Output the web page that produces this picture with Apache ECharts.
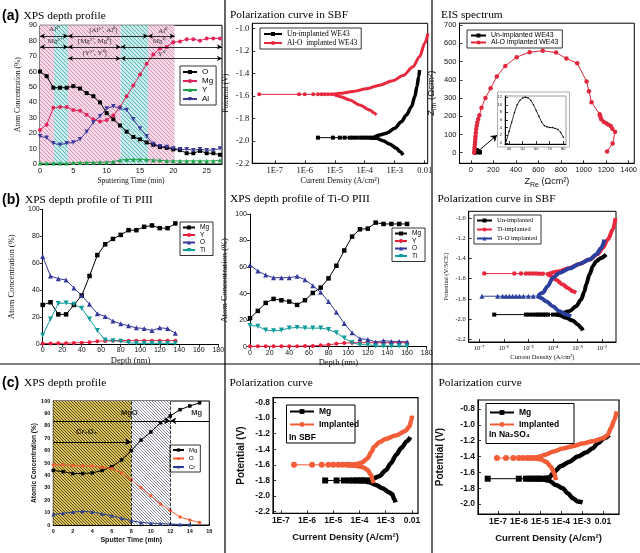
<!DOCTYPE html>
<html>
<head>
<meta charset="utf-8">
<title>Ion implantation on Mg alloys</title>
<script src="https://cdn.jsdelivr.net/npm/echarts@6/dist/echarts.min.js"></script>
<style>
  html, body { margin: 0; padding: 0; background: #fff; }
  #chart { width: 640px; height: 553px; }
</style>
</head>
<body>
<div id="chart"></div>
<script>
var SERIF = '"Liberation Serif", "Times New Roman", serif';
var SANS = '"Liberation Sans", Arial, sans-serif';

// ---------- (a) XPS depth profile (sputtering time, min) ----------
var aTime = [0,1,2,3,4,5,6,7,8,9,10,11,12,13,14,15,16,17,18,19,20,21,22,23,24,25,26,27];
var aO  = [60,57,49.5,49.5,49.5,50.5,49,46,44,40,33,29,25,21,17.5,16,14,12.5,11,10.5,9.5,9,7,7,8.5,7,7,6];
var aMg = [22,25.5,36.5,37,37,35,34.5,32,29,27.5,28.5,31.5,37,44,51,58,65,71,75,76,79,79.5,81,81,80,81.5,81.5,81.5];
var aY  = [0.5,0.5,0.5,0.5,0.5,0.8,0.8,1,1,1.2,1.2,1.5,2.5,3,3,3,3,2.5,2.5,2,2,2,2,2,2,2,2,2.5];
var aAl = [18,17,13.5,12.5,13.5,14,16,21,27,31,36,37.5,36,35,29,23,18,13,11.5,11,10,9.5,9.5,9,9.5,9,9,10];
// shaded stages [from, to, kind]
var aBands = [[0,2.1,'p'],[2.1,4.2,'t'],[4.2,12.1,'p'],[12.1,16.2,'t'],[16.2,20.2,'p']];
// chemical state spans [from, to, level]
var aSpans = [[0,4.2,83],[4.2,16.2,83],[16.2,20.2,83],[0,4.2,76],[4.2,12.1,76],[12.1,27.3,76],[4.2,12.1,68.5],[12.1,27.3,68.5]];
var aNotes = [[2.2,87.5,'Al³⁺'],[9.5,87,'[Al³⁺, Al⁰]'],[18.4,86.5,'Al⁰'],[2.2,80,'Mg²⁺'],[8.2,80,'[Mg²⁺, Mg⁰]'],[17.8,79.5,'Mg⁰'],[8.2,72,'[Y³⁺, Y⁰]'],[18.2,71.5,'Y⁰']];

// ---------- (a) polarization in SBF, x = log10(current density) ----------
var a2UnFlat = [[-5.56,-1.972],[-5.06,-1.972],[-4.83,-1.972],[-4.67,-1.972],[-4.5,-1.972],[-4.39,-1.972],[-4.28,-1.972],[-4.15,-1.972],[-4.05,-1.972],[-3.95,-1.972],[-3.85,-1.972]];
var a2UnAnodic = [[-3.85,-1.972],[-3.72,-1.969],[-3.5,-1.948],[-3.28,-1.933],[-3.0,-1.889],[-2.78,-1.83],[-2.61,-1.77],[-2.44,-1.696],[-2.33,-1.607],[-2.26,-1.519],[-2.2,-1.43],[-2.17,-1.37]];
var a2UnCathodic = [[-3.85,-1.974],[-3.61,-1.978],[-3.39,-1.999],[-3.17,-2.028],[-2.94,-2.067],[-2.83,-2.096],[-2.72,-2.126]];
var a2AlFlat = [[-7.52,-1.587],[-6.19,-1.587],[-6.0,-1.587],[-5.72,-1.587],[-5.56,-1.587],[-5.44,-1.587],[-5.33,-1.587],[-5.22,-1.587],[-5.1,-1.587],[-5.0,-1.587]];
var a2AlAnodic = [[-5.0,-1.587],[-4.83,-1.578],[-4.39,-1.562],[-3.94,-1.537],[-3.5,-1.505],[-3.06,-1.465],[-2.72,-1.42],[-2.39,-1.341],[-2.17,-1.252],[-2.0,-1.133],[-1.89,-1.044]];
var a2AlCathodic = [[-5.0,-1.592],[-4.83,-1.605],[-4.5,-1.637],[-4.17,-1.681],[-3.83,-1.726],[-3.7,-1.75],[-3.61,-1.77]];

// ---------- (a) EIS spectrum ----------
var a3AlO = [[30,0],[32,15],[34,30],[36,45],[38,60],[40,75],[42,90],[45,110],[48,130],[53,148],[58,165],[66,185],[76,205],[95,247],[130,300],[176,353],[231,418],[306,476],[407,524],[522,551],[638,559],[756,549],[848,516],[944,491],[1027,390],[1048,337],[1071,277],[1143,211],[1149,198],[1157,183],[1178,170],[1201,161],[1221,154],[1241,147],[1255,132],[1279,115],[1258,51],[1209,7]];
var a3Un = [[38,0.5],[40,3],[42,5.5],[44,8],[46,10],[48,11.2],[50,11.8],[52,12],[54,11.8],[56,11.2],[58,10],[60,8.5],[62,7],[64,5.5],[66,4.5],[68,4.2],[70,4],[72,4],[74,3.8],[76,3.5],[78,2.8],[80,1.5]];
var a3Arrow = [[60,6],[232,96]];

// ---------- (b) XPS depth profile of Ti PIII ----------
var b1Depth = [0,8,16,24,32,40,48,56,64,72,80,88,96,104,112,120,128,136];
var b1Mg = [29,31,22,22,29,36,50.5,66,74,78,81,84.5,84.5,87,88,86,86,89.5];
var b1Y  = [0.3,0.4,0.5,0.6,0.8,1,1.3,2,2.3,2.4,2.5,2.5,2.5,2.5,2.5,2.5,2.5,2.5];
var b1O  = [65,50.5,48.5,47.5,41.5,36,29.5,22.5,20.5,17,15,13.5,12,11.5,10,12,11.5,8];
var b1Ti = [6.5,18.5,30,30.5,29.5,26.5,18.5,10,3,2.5,2,1,0.5,0.5,0.5,0.5,0.5,0.5];

// ---------- (b) XPS depth profile of Ti-O PIII ----------
var b2Depth = [0,8,16,24,32,40,48,56,64,72,80,88,96,104,112,120,128,136,144,152,160];
var b2Mg = [21.5,27,33,36,35,34,31.5,35,40.5,44.5,51.5,61,72.5,83,88.5,89,93.5,92.5,92.5,92.5,92.5];
var b2Y  = [0.3,0.3,0.3,0.3,0.3,0.3,0.4,0.5,0.6,1,1.5,2.2,2.8,3,3,3,3,3,3,3,3];
var b2O  = [61.5,57,54,52,52,52,53,50.5,46,41,34,26,17.5,10.5,6,5.5,3.5,4.5,4,4,3.5];
var b2Ti = [16,15.5,12.5,12,12.5,14,14.5,14,14,14,13,10.5,6.5,3,1.5,1.5,0.5,0.5,0.5,0.5,0.5];

// ---------- (b) polarization in SBF ----------
var b3UnFlat = [[-6.39,-1.956],[-5.1,-1.956],[-4.96,-1.956],[-4.82,-1.956],[-4.69,-1.956],[-4.6,-1.956],[-4.5,-1.956],[-4.4,-1.956],[-4.3,-1.956],[-4.2,-1.956],[-4.0,-1.956],[-3.85,-1.956]];
var b3UnAnodic = [[-3.85,-1.956],[-3.735,-1.949],[-3.327,-1.923],[-3.054,-1.873],[-2.85,-1.807],[-2.714,-1.725],[-2.646,-1.659],[-2.51,-1.56],[-2.374,-1.478],[-2.238,-1.428],[-2.034,-1.395],[-1.83,-1.362]];
var b3UnCathodic = [[-3.85,-1.958],[-3.735,-1.962],[-3.463,-1.988],[-3.19,-2.015],[-2.986,-2.054],[-2.85,-2.087],[-2.782,-2.114]];
var b3TiFlat = [[-6.796,-1.55],[-5.571,-1.55],[-5.299,-1.55],[-5.095,-1.55],[-4.959,-1.55],[-4.823,-1.55],[-4.687,-1.55],[-4.55,-1.552],[-4.41,-1.552],[-4.2,-1.555]];
var b3TiAnodic = [[-4.2,-1.555],[-3.735,-1.527],[-3.327,-1.494],[-2.918,-1.455],[-2.51,-1.412],[-2.17,-1.356],[-1.966,-1.297],[-1.762,-1.214],[-1.558,-1.115],[-1.449,-1.0]];
var b3TiCathodic = [[-4.2,-1.56],[-4.143,-1.567],[-3.871,-1.61],[-3.599,-1.659],[-3.395,-1.692],[-3.19,-1.725],[-3.054,-1.741]];
var b3TiOFlat = [[-6.891,-1.774],[-6.252,-1.774],[-6.048,-1.774],[-5.912,-1.774],[-5.776,-1.774],[-5.639,-1.774],[-5.5,-1.774],[-5.36,-1.774],[-5.2,-1.774],[-5.0,-1.774],[-4.8,-1.774],[-4.6,-1.77]];
var b3TiOAnodic = [[-4.6,-1.77],[-4.415,-1.741],[-4.211,-1.675],[-4.007,-1.593],[-3.735,-1.544],[-3.327,-1.501],[-2.918,-1.455],[-2.51,-1.412],[-2.238,-1.362],[-2.034,-1.297],[-1.898,-1.214]];
var b3TiOCathodic = [[-4.6,-1.778],[-4.483,-1.791],[-4.279,-1.824],[-4.007,-1.873],[-3.735,-1.923],[-3.463,-1.956],[-3.259,-1.972]];

// ---------- (c) XPS depth profile (Cr implanted) ----------
var cTime = [0,1,2,3,4,5,6,7,8,9,10,11,12,13,14,15];
var cMg = [44,43,41.5,41.5,42,44,47,52.5,60,68.5,75,82.5,88,93,96,98.5];
var cO  = [48.5,48.5,48,47.5,47.5,46.5,45.5,42,36.5,30,23.5,17,11.5,6.5,4,2];
var cCr = [8.5,9.5,10.5,11,10.5,9,7.5,5.5,3.5,2,1.5,1,0.8,0.5,0.5];
var cLayers = [[0,8,'y'],[8,12,'g']];
var cBounds = [8,12];
var cArrows = [[0,12,84],[16,12,84],[0,8,67]];
var cNotes = [[7.8,90.5,'MgO'],[14.7,90,'Mg'],[3.4,75,'Cr₂O₃']];

// ---------- (c) polarization curves ----------
var c2MgFlat = [[-5.31,-1.8],[-4.875,-1.8],[-4.6,-1.8],[-4.4,-1.8],[-4.25,-1.8],[-4.125,-1.8],[-4.0,-1.8],[-3.9,-1.8],[-3.8,-1.8]];
var c2MgAnodic = [[-3.8,-1.8],[-3.5,-1.78],[-3.25,-1.745],[-3.0,-1.67],[-2.8,-1.58],[-2.6,-1.47],[-2.4,-1.38],[-2.2,-1.3],[-2.06,-1.245]];
var c2MgCathodic = [[-3.8,-1.805],[-3.625,-1.823],[-3.375,-1.858],[-3.125,-1.9],[-2.875,-1.951],[-2.75,-1.977],[-2.69,-2.028],[-2.625,-2.079]];
var c2ImpFlat = [[-6.5,-1.6],[-5.81,-1.6],[-5.44,-1.6],[-5.19,-1.6],[-5.0,-1.6],[-4.81,-1.6],[-4.65,-1.6],[-4.5,-1.6],[-4.4,-1.6]];
var c2ImpAnodic = [[-4.4,-1.598],[-4.125,-1.59],[-3.9,-1.57],[-3.69,-1.516],[-3.56,-1.44],[-3.44,-1.37],[-3.25,-1.31],[-3.0,-1.27],[-2.625,-1.226],[-2.25,-1.167],[-2.1,-1.111],[-2.02,-1.03],[-2.0,-0.97]];
var c2ImpCathodic = [[-4.4,-1.605],[-4.1,-1.615],[-3.875,-1.63],[-3.69,-1.666],[-3.56,-1.73],[-3.5,-1.794],[-3.475,-1.836]];

var c3MgFlat = [[-7.49,-1.68],[-6.01,-1.68],[-5.67,-1.68],[-5.5,-1.68],[-5.35,-1.68],[-5.2,-1.68],[-5.05,-1.68],[-4.9,-1.68]];
var c3MgAnodic = [[-4.9,-1.68],[-4.56,-1.663],[-4.32,-1.592],[-4.0,-1.52],[-3.6,-1.465],[-3.2,-1.4],[-2.81,-1.35],[-2.49,-1.295],[-2.25,-1.232],[-1.94,-1.168],[-1.7,-1.126]];
var c3MgCathodic = [[-4.9,-1.685],[-4.56,-1.705],[-4.24,-1.76],[-3.92,-1.8],[-3.68,-1.863],[-3.44,-1.926],[-3.2,-1.968],[-2.97,-1.98]];
var c3ImpFlat = [[-7.05,-1.42],[-6.62,-1.42],[-6.27,-1.42],[-6.0,-1.42],[-5.8,-1.42],[-5.6,-1.42],[-5.45,-1.42],[-5.3,-1.42],[-5.15,-1.42]];
var c3ImpAnodic = [[-5.15,-1.418],[-5.03,-1.4],[-4.71,-1.373],[-4.4,-1.34],[-3.92,-1.3],[-3.44,-1.27],[-2.97,-1.237],[-2.49,-1.208],[-2.01,-1.17],[-1.78,-1.13],[-1.62,-1.04],[-1.46,-0.94],[-1.35,-0.83]];
var c3ImpCathodic = [[-5.15,-1.425],[-4.95,-1.436],[-4.71,-1.465],[-4.48,-1.528],[-4.32,-1.612],[-4.24,-1.697]];

// ---------- helpers ----------
function pairs(xs, ys) {
  return ys.map(function (y, i) { return [xs[i], y]; });
}

function hatch(bg, fg, step, lw) {
  var c = document.createElement('canvas');
  c.width = step; c.height = step;
  var g = c.getContext('2d');
  g.fillStyle = bg; g.fillRect(0, 0, step, step);
  g.strokeStyle = fg; g.lineWidth = lw;
  g.beginPath();
  for (var k = -1; k <= 1; k++) {
    g.moveTo(k * step, 0); g.lineTo(k * step + step, step);
  }
  g.stroke();
  return { image: c, repeat: 'repeat' };
}

function decLabel(v) {
  var r = Math.round(v);
  if (Math.abs(v - r) > 1e-6) return '';
  if (r === -2) return '0.01';
  if (r === -1) return '0.1';
  return '1E' + r;
}
var SUP = {'-': '⁻', '0': '⁰', '1': '¹', '2': '²', '3': '³', '4': '⁴', '5': '⁵', '6': '⁶', '7': '⁷', '8': '⁸', '9': '⁹'};
function powLabel(v) {
  var r = Math.round(v);
  if (Math.abs(v - r) > 1e-6) return '';
  return '10' + String(r).split('').map(function (c) { return SUP[c]; }).join('');
}
function oneDec(v) { return v.toFixed(1); }
function plain(v) { return String(v); }

function axis(gi, o) {
  var a = {
    type: 'value', gridIndex: gi, min: o.min, max: o.max,
    axisLine: { show: true, onZero: false, lineStyle: { color: '#000', width: 1 } },
    axisTick: { show: true, inside: o.tickIn !== false, length: 3, lineStyle: { color: '#000', width: 0.8 } },
    splitLine: { show: false },
    axisLabel: {
      fontFamily: o.font, fontSize: o.size, fontWeight: o.bold ? 'bold' : 'normal',
      color: '#111', margin: o.margin || 3,
      showMinLabel: o.minLabel !== false, showMaxLabel: o.maxLabel !== false
    },
    name: o.name || '', nameLocation: 'middle', nameGap: o.gap || 0,
    nameTextStyle: {
      fontFamily: o.nfont || o.font, fontSize: o.nsize || o.size,
      fontWeight: o.bold ? 'bold' : 'normal', color: '#111', rich: o.rich
    }
  };
  if (o.fmt) a.axisLabel.formatter = o.fmt;
  if (o.interval) a.interval = o.interval; else a.splitNumber = o.split || 5;
  return a;
}

function prof(name, gi, xs, ys, color, symbol, size) {
  return {
    name: name, type: 'line', xAxisIndex: gi, yAxisIndex: gi, z: 3,
    data: pairs(xs, ys), symbol: symbol, symbolSize: size,
    itemStyle: { color: color }, lineStyle: { color: color, width: 1 }
  };
}

function pol(name, gi, flat, cath, anod, color, symbol, size, width) {
  var base = { name: name, type: 'line', xAxisIndex: gi, yAxisIndex: gi, z: 3, itemStyle: { color: color } };
  return [
    Object.assign({}, base, { data: flat, symbol: symbol, symbolSize: size, lineStyle: { color: color, width: 1 } }),
    Object.assign({}, base, { data: cath, symbol: 'none', smooth: 0.3, smoothMonotone: 'x', lineStyle: { color: color, width: width } }),
    Object.assign({}, base, { data: anod, symbol: 'none', smooth: 0.3, smoothMonotone: 'x', lineStyle: { color: color, width: width } })
  ];
}

function legendAt(names, left, top, o) {
  return {
    data: names, left: left, top: top, orient: 'vertical', selectedMode: false,
    itemWidth: o.iw, itemHeight: o.ih, itemGap: o.gap, padding: o.pad,
    borderColor: o.border === false ? 'transparent' : '#000', borderWidth: o.border === false ? 0 : 0.8,
    textStyle: { fontFamily: o.font, fontSize: o.size, fontWeight: o.bold ? 'bold' : 'normal', color: '#000' },
    formatter: function (n) { return n.split('|')[0]; }
  };
}

function noteSeries(gi, notes, font, size, bold) {
  return {
    type: 'scatter', xAxisIndex: gi, yAxisIndex: gi, z: 1, silent: true,
    data: notes, symbolSize: 1, itemStyle: { color: 'rgba(0,0,0,0)' },
    label: {
      show: true, position: 'inside', color: '#000', fontFamily: font, fontSize: size,
      fontWeight: bold ? 'bold' : 'normal',
      formatter: function (p) { return p.value[2]; }
    }
  };
}

var pink = hatch('#f4d9e6', '#d98cb6', 4, 0.9);
var teal = hatch('#c8ecec', '#4fb0b0', 4, 0.9);
var yellow = hatch('#dcc55c', '#4a3c10', 3.5, 0.9);
var grey = hatch('#ffffff', '#7d7f98', 3.5, 0.9);

var RED = '#e0245a', BLK = '#000', GRN = '#1fa04a', PUR = '#3b3a9c';
var ORG = '#f25c36';

// ---------- option ----------
var grids = [
  { left: 40, top: 25.3, width: 182, height: 138.7, show: true, borderColor: '#000', borderWidth: 1 },
  { left: 252.3, top: 23.3, width: 175.4, height: 140, show: true, borderColor: '#000', borderWidth: 1 },
  { left: 459.5, top: 23.2, width: 179, height: 140.1, show: true, borderColor: '#000', borderWidth: 1 },
  { left: 42.7, top: 209.3, width: 175.6, height: 134.7 },
  { left: 250, top: 214, width: 176.7, height: 132.7 },
  { left: 468.7, top: 211.3, width: 147.3, height: 130.7, show: true, borderColor: '#000', borderWidth: 1 },
  { left: 53.3, top: 401, width: 156, height: 124, show: true, borderColor: '#000', borderWidth: 1 },
  { left: 273, top: 397.7, width: 145, height: 115.6, show: true, borderColor: '#000', borderWidth: 1.2 },
  { left: 478, top: 400, width: 141, height: 114, show: true, borderColor: '#000', borderWidth: 1.2 },
  { left: 505, top: 96, width: 61, height: 48, show: true, borderColor: '#555', borderWidth: 0.6 }
];

var zRich = { sub: { fontSize: 7, fontFamily: SANS, padding: [6, 0, 0, 0] } };

var xAxes = [
  axis(0, { min: 0, max: 27.3, interval: 5, font: SANS, size: 7.5, maxLabel: false, name: 'Sputtering Time (min)', nfont: SERIF, nsize: 7.5, gap: 13 }),
  axis(1, { min: -7.75, max: -1.9, split: 5, font: SERIF, size: 8.5, fmt: decLabel, minLabel: false, maxLabel: false, name: 'Current Density (A/cm²)', nsize: 8, gap: 14 }),
  axis(2, { min: -100, max: 1450, split: 7, font: SANS, size: 7.5, fmt: plain, minLabel: false, maxLabel: false, name: 'Z{sub|Re} (Ωcm²)', nsize: 9, gap: 12, rich: zRich }),
  axis(3, { min: 0, max: 180, interval: 20, font: SANS, size: 7, tickIn: false, name: 'Depth (nm)', nfont: SERIF, nsize: 8.5, gap: 12 }),
  axis(4, { min: 0, max: 180, interval: 20, font: SANS, size: 7, tickIn: false, name: 'Depth (nm)', nfont: SERIF, nsize: 8.5, gap: 12 }),
  axis(5, { min: -7.43, max: -1.43, split: 5, font: SERIF, size: 6.5, fmt: powLabel, minLabel: false, maxLabel: false, name: 'Current Density (A/cm²)', nsize: 6.5, gap: 12 }),
  axis(6, { min: 0, max: 16, interval: 2, font: SANS, size: 5.5, bold: true, name: 'Sputter Time (min)', nsize: 7, gap: 12 }),
  axis(7, { min: -7.3, max: -1.77, split: 5, font: SANS, size: 8.5, bold: true, fmt: decLabel, minLabel: false, maxLabel: false, name: 'Current Density (A/cm²)', nsize: 9.5, gap: 19 }),
  axis(8, { min: -7.952, max: -1.238, split: 6, font: SANS, size: 8.5, bold: true, fmt: decLabel, minLabel: false, maxLabel: false, name: 'Current Density (A/cm²)', nsize: 9.5, gap: 19 }),
  axis(9, { min: 37, max: 82, split: 4, font: SANS, size: 4, fmt: plain, minLabel: false, maxLabel: false })
];

var yAxes = [
  axis(0, { min: 0, max: 90, interval: 10, font: SANS, size: 7.5, name: 'Atom Concentration (%)', nfont: SERIF, nsize: 7.5, gap: 18 }),
  axis(1, { min: -2.2, max: -0.955, split: 6, font: SERIF, size: 8.5, fmt: oneDec, maxLabel: false, name: 'Potential (V)', nsize: 7.5, gap: 22 }),
  axis(2, { min: -58, max: 710, split: 7, font: SANS, size: 7.5, fmt: plain, minLabel: false, maxLabel: false, name: 'Z{sub|im} (Ωcm²)', nsize: 9.5, gap: 22, rich: zRich }),
  axis(3, { min: 0, max: 100, interval: 20, font: SANS, size: 7, tickIn: false, name: 'Atom Concentration (%)', nfont: SERIF, nsize: 8.5, gap: 26 }),
  axis(4, { min: 0, max: 100, interval: 20, font: SANS, size: 7, tickIn: false, name: 'Atom Concentration (%)', nfont: SERIF, nsize: 8.5, gap: 21 }),
  axis(5, { min: -2.227, max: -0.934, split: 6, font: SERIF, size: 6.5, fmt: oneDec, minLabel: false, maxLabel: false, name: 'Potential (V/SCE)', nsize: 6.5, gap: 19 }),
  axis(6, { min: 0, max: 100, interval: 10, font: SANS, size: 5.5, bold: true, name: 'Atomic Concentration (%)', nsize: 6.5, gap: 16 }),
  axis(7, { min: -2.22, max: -0.741, split: 7, font: SANS, size: 8.5, bold: true, fmt: oneDec, minLabel: false, maxLabel: false, name: 'Potential (V)', nsize: 10, gap: 27 }),
  axis(8, { min: -2.126, max: -0.686, split: 7, font: SANS, size: 8.5, bold: true, fmt: oneDec, minLabel: false, maxLabel: false, name: 'Potential (V)', nsize: 10, gap: 33 }),
  axis(9, { min: -0.3, max: 12.3, split: 6, font: SANS, size: 4, fmt: plain, minLabel: false, maxLabel: false })
];

var series = [];

// (a) depth profile
var aNoteSeries = noteSeries(0, aNotes, SERIF, 7, false);
aNoteSeries.markArea = {
  silent: true,
  data: aBands.map(function (b) {
    return [{ xAxis: b[0], itemStyle: { color: b[2] === 'p' ? pink : teal, opacity: 1 } }, { xAxis: b[1] }];
  })
};
aNoteSeries.markLine = {
  silent: true, symbol: ['arrow', 'arrow'], symbolSize: [4, 5], animation: false,
  lineStyle: { color: '#000', width: 0.8, type: 'solid' }, label: { show: false },
  data: aSpans.map(function (s) { return [{ coord: [s[0], s[2]] }, { coord: [s[1], s[2]] }]; })
};
series.push(aNoteSeries);
series.push(prof('O|a', 0, aTime, aO, BLK, 'rect', 4));
series.push(prof('Mg|a', 0, aTime, aMg, RED, 'circle', 4));
series.push(prof('Y|a', 0, aTime, aY, GRN, 'triangle', 4.5));
var alS = prof('Al|a', 0, aTime, aAl, PUR, 'triangle', 4.5);
alS.symbolRotate = 180;
series.push(alS);

// (a) polarization
series = series.concat(pol('Un-implanted WE43|a2', 1, a2UnFlat, a2UnCathodic, a2UnAnodic, BLK, 'rect', 4, 3.5));
series = series.concat(pol('Al-O  implanted WE43|a2', 1, a2AlFlat, a2AlCathodic, a2AlAnodic, '#e8283c', 'circle', 4, 3));

// (a) EIS
var unEis = {
  name: 'Un-implanted WE43|a3', type: 'line', xAxisIndex: 2, yAxisIndex: 2, z: 3,
  data: a3Un, symbol: 'rect', symbolSize: 4, itemStyle: { color: BLK }, lineStyle: { color: BLK, width: 1 },
  markLine: {
    silent: true, symbol: ['none', 'arrow'], symbolSize: 6, animation: false,
    lineStyle: { color: '#000', width: 1, type: 'solid' }, label: { show: false },
    data: [[{ coord: a3Arrow[0] }, { coord: a3Arrow[1] }]]
  }
};
series.push(unEis);
series.push({
  name: 'Al-O implanted WE43|a3', type: 'line', xAxisIndex: 2, yAxisIndex: 2, z: 3,
  data: a3AlO, symbol: 'circle', symbolSize: 4.5, itemStyle: { color: '#e0283c' }, lineStyle: { color: '#e0283c', width: 1 }
});
series.push({
  name: 'inset', type: 'line', xAxisIndex: 9, yAxisIndex: 9, z: 5,
  data: a3Un, symbol: 'circle', symbolSize: 1.5, itemStyle: { color: BLK }, lineStyle: { color: BLK, width: 0.8 }
});

// (b) depth profiles
[[3, b1Depth, b1Mg, b1Y, b1O, b1Ti, 'b1'], [4, b2Depth, b2Mg, b2Y, b2O, b2Ti, 'b2']].forEach(function (d) {
  series.push(prof('Mg|' + d[6], d[0], d[1], d[2], BLK, 'rect', 4.5));
  series.push(prof('Y|' + d[6], d[0], d[1], d[3], '#e8203c', 'circle', 4));
  series.push(prof('O|' + d[6], d[0], d[1], d[4], '#34389a', 'triangle', 5));
  var ti = prof('Ti|' + d[6], d[0], d[1], d[5], '#119c9c', 'triangle', 5);
  ti.symbolRotate = 180;
  series.push(ti);
});

// (b) polarization
series = series.concat(pol('Un-implanted|b3', 5, b3UnFlat, b3UnCathodic, b3UnAnodic, BLK, 'rect', 4, 4));
series = series.concat(pol('Ti-implanted|b3', 5, b3TiFlat, b3TiCathodic, b3TiAnodic, '#e8283c', 'circle', 4.5, 4));
series = series.concat(pol('Ti-O implanted|b3', 5, b3TiOFlat, b3TiOCathodic, b3TiOAnodic, '#2b3f9e', 'triangle', 5, 4));

// (c) depth profile
var cNoteSeries = noteSeries(6, cNotes, SANS, 7.5, true);
cNoteSeries.markArea = {
  silent: true,
  data: cLayers.map(function (b) {
    return [{ xAxis: b[0], itemStyle: { color: b[2] === 'y' ? yellow : grey, opacity: 1 } }, { xAxis: b[1] }];
  })
};
cNoteSeries.markLine = {
  silent: true, symbol: ['none', 'arrow'], symbolSize: [5, 6], animation: false,
  lineStyle: { color: '#000', width: 1, type: 'solid' }, label: { show: false },
  data: cArrows.map(function (s) { return [{ coord: [s[0], s[2]] }, { coord: [s[1], s[2]] }]; })
    .concat(cBounds.map(function (x) {
      return [{ coord: [x, 0], symbol: 'none', lineStyle: { type: 'dashed', width: 0.8 } }, { coord: [x, 100], symbol: 'none' }];
    }))
};
series.push(cNoteSeries);
series.push(prof('Mg|c1', 6, cTime, cMg, BLK, 'rect', 3.5));
series.push(prof('O|c1', 6, cTime, cO, ORG, 'circle', 3.5));
series.push(prof('Cr|c1', 6, cTime.slice(0, cCr.length), cCr, '#2a3f8f', 'triangle', 4));

// (c) polarization
series = series.concat(pol('Mg|c2', 7, c2MgFlat, c2MgCathodic, c2MgAnodic, BLK, 'rect', 6, 4.5));
series = series.concat(pol('Implanted|c2', 7, c2ImpFlat, c2ImpCathodic, c2ImpAnodic, ORG, 'circle', 6, 4.5));
series = series.concat(pol('Mg|c3', 8, c3MgFlat, c3MgCathodic, c3MgAnodic, BLK, 'rect', 6, 4.5));
series = series.concat(pol('Implanted|c3', 8, c3ImpFlat, c3ImpCathodic, c3ImpAnodic, ORG, 'circle', 6, 4.5));

var legends = [
  legendAt(['O|a', 'Mg|a', 'Y|a', 'Al|a'], 180, 66, { iw: 14, ih: 5, gap: 1, pad: [2, 3, 2, 2], font: SANS, size: 8 }),
  legendAt(['Un-implanted WE43|a2', 'Al-O  implanted WE43|a2'], 260, 28, { iw: 18, ih: 5, gap: 1, pad: [2, 4, 2, 3], font: SERIF, size: 7.5 }),
  legendAt(['Un-implanted WE43|a3', 'Al-O implanted WE43|a3'], 467, 30, { iw: 15, ih: 5, gap: 0, pad: [2, 4, 2, 3], font: SANS, size: 7 }),
  legendAt(['Mg|b1', 'Y|b1', 'O|b1', 'Ti|b1'], 180, 222, { iw: 12, ih: 5, gap: 0.5, pad: [2, 4, 2, 2], font: SANS, size: 6.5 }),
  legendAt(['Mg|b2', 'Y|b2', 'O|b2', 'Ti|b2'], 392, 228, { iw: 12, ih: 5, gap: 0.5, pad: [2, 4, 2, 2], font: SANS, size: 6.5 }),
  legendAt(['Un-implanted|b3', 'Ti-implanted|b3', 'Ti-O implanted|b3'], 474, 215, { iw: 15, ih: 5, gap: 2, pad: [2, 4, 2, 2], font: SERIF, size: 6.5 }),
  legendAt(['Mg|c1', 'O|c1', 'Cr|c1'], 170, 445, { iw: 11, ih: 4, gap: 2.5, pad: [2, 3, 2, 2], font: SANS, size: 6 }),
  legendAt(['Mg|c2', 'Implanted|c2'], 289, 407, { iw: 24, ih: 6, gap: 4, pad: [0, 0, 0, 0], font: SANS, size: 8.5, bold: true, border: false }),
  legendAt(['Mg|c3', 'Implanted|c3'], 489, 408, { iw: 24, ih: 6, gap: 3, pad: [0, 0, 0, 0], font: SANS, size: 8.5, bold: true, border: false })
];

function title(text, x, y, opt) {
  opt = opt || {};
  return {
    type: 'text', x: x, y: y, z: 50,
    style: {
      text: text, fill: '#000', verticalAlign: 'middle',
      fontFamily: opt.font || SERIF, fontSize: opt.size || 11.4, fontWeight: opt.bold ? 'bold' : 'normal'
    }
  };
}

var graphics = [
  { type: 'line', shape: { x1: 225, y1: 0, x2: 225, y2: 553 }, style: { stroke: '#000', lineWidth: 1.2 } },
  { type: 'line', shape: { x1: 432, y1: 0, x2: 432, y2: 553 }, style: { stroke: '#000', lineWidth: 1.2 } },
  { type: 'line', shape: { x1: 0, y1: 364, x2: 640, y2: 364 }, style: { stroke: '#000', lineWidth: 1.2 } },
  title('(a)', 2, 16, { font: SANS, size: 14, bold: true }),
  title('XPS depth profile', 23.5, 16),
  title('Polarization curve in SBF', 230, 15),
  title('EIS spectrum', 441, 15),
  title('(b)', 2, 200, { font: SANS, size: 14, bold: true }),
  title('XPS depth profile of Ti PIII', 25, 200),
  title('XPS depth profile of Ti-O PIII', 230, 199),
  title('Polarization curve in SBF', 437.5, 199),
  title('(c)', 2, 383, { font: SANS, size: 14, bold: true }),
  title('XPS depth profile', 24, 383),
  title('Polarization curve', 229.5, 383),
  title('Polarization curve', 438.5, 383),
  { type: 'rect', z: 40, shape: { x: 497.5, y: 92, width: 72, height: 55 }, style: { fill: 'none', stroke: '#999', lineWidth: 0.8 } },
  { type: 'rect', z: 40, shape: { x: 286.5, y: 405, width: 68.5, height: 38 }, style: { fill: 'none', stroke: '#000', lineWidth: 1 } },
  title('In SBF', 289, 437.5, { font: SANS, size: 8.5, bold: true }),
  { type: 'rect', z: 40, shape: { x: 486, y: 403.5, width: 88, height: 40 }, style: { fill: 'none', stroke: '#000', lineWidth: 1 } },
  title('In Na₂SO₄', 489, 435, { font: SANS, size: 8.5, bold: true })
];

var chart = echarts.init(document.getElementById('chart'));
chart.setOption({
  backgroundColor: '#fff',
  animation: false,
  grid: grids,
  xAxis: xAxes,
  yAxis: yAxes,
  legend: legends,
  series: series,
  graphic: graphics
});
</script>
</body>
</html>
